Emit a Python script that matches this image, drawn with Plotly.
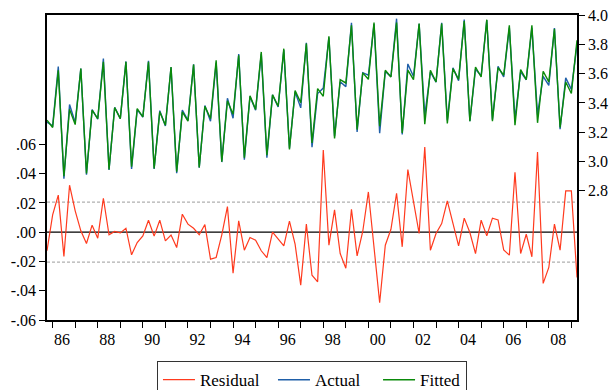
import plotly.graph_objects as go

# quarterly observations 1985Q4 .. 2009Q2
start_year, start_q, n_obs = 1985, 4, 95

fitted = [3.282, 3.232, 3.623, 2.900, 3.357, 3.252, 3.634, 2.918, 3.350, 3.293,
          3.680, 2.945, 3.368, 3.293, 3.680, 2.964, 3.361, 3.305, 3.680, 2.952,
          3.339, 3.248, 3.645, 2.930, 3.339, 3.275, 3.661, 2.959, 3.377, 3.293,
          3.691, 2.998, 3.414, 3.323, 3.725, 3.025, 3.448, 3.355, 3.748, 3.043,
          3.455, 3.377, 3.770, 3.082, 3.484, 3.402, 3.805, 3.127, 3.498, 3.445,
          3.855, 3.157, 3.559, 3.536, 3.930, 3.218, 3.605, 3.561, 3.948, 3.241,
          3.623, 3.577, 3.948, 3.195, 3.623, 3.559, 3.941, 3.255, 3.623, 3.543,
          3.941, 3.259, 3.634, 3.561, 3.959, 3.275, 3.645, 3.577, 3.968, 3.275,
          3.641, 3.589, 3.930, 3.248, 3.627, 3.559, 3.930, 3.264, 3.616, 3.543,
          3.905, 3.232, 3.543, 3.464, 3.827]

actual = [3.269, 3.244, 3.648, 2.883, 3.389, 3.267, 3.635, 2.910, 3.355, 3.289,
          3.703, 2.943, 3.369, 3.293, 3.683, 2.949, 3.354, 3.303, 3.688, 2.949,
          3.347, 3.242, 3.643, 2.920, 3.351, 3.281, 3.664, 2.957, 3.382, 3.275,
          3.674, 2.996, 3.432, 3.295, 3.733, 3.013, 3.444, 3.350, 3.735, 3.026,
          3.455, 3.372, 3.761, 3.090, 3.476, 3.366, 3.811, 3.098, 3.464, 3.501,
          3.846, 3.172, 3.544, 3.511, 3.946, 3.202, 3.606, 3.589, 3.938, 3.193,
          3.614, 3.579, 3.975, 3.185, 3.666, 3.580, 3.940, 3.313, 3.611, 3.542,
          3.947, 3.280, 3.640, 3.552, 3.969, 3.275, 3.630, 3.585, 3.966, 3.285,
          3.649, 3.577, 3.914, 3.289, 3.612, 3.558, 3.913, 3.319, 3.581, 3.519,
          3.911, 3.220, 3.571, 3.492, 3.796]

residual = [-0.0127, 0.0118, 0.0253, -0.0166, 0.0321, 0.0146, 0.0009, -0.0077, 0.0048, -0.0041,
            0.0232, -0.0018, 0.0005, -0.0005, 0.0027, -0.0155, -0.0071, -0.0025, 0.0082, -0.0027,
            0.0082, -0.0059, -0.0020, -0.0105, 0.0123, 0.0055, 0.0027, -0.0018, 0.0052, -0.0184,
            -0.0173, -0.0018, 0.0175, -0.0280, 0.0077, -0.0123, -0.0036, -0.0055, -0.0127, -0.0173,
            0.0000, -0.0048, -0.0093, 0.0075, -0.0082, -0.0362, 0.0055, -0.0294, -0.0339, 0.0562,
            -0.0089, 0.0152, -0.0146, -0.0246, 0.0157, -0.0162, 0.0005, 0.0275, -0.0105, -0.0482,
            -0.0089, 0.0020, 0.0266, -0.0100, 0.0428, 0.0214, -0.0009, 0.0582, -0.0123, -0.0009,
            0.0059, 0.0214, 0.0055, -0.0093, 0.0096, -0.0002, -0.0146, 0.0082, -0.0025, 0.0096,
            0.0084, -0.0121, -0.0157, 0.0410, -0.0146, -0.0014, -0.0168, 0.0548, -0.0350, -0.0241,
            0.0055, -0.0123, 0.0282, 0.0282, -0.0310]

std_err = 0.0205

resid_ticks = [-0.06, -0.04, -0.02, 0.0, 0.02, 0.04, 0.06]
resid_labels = ["-.06", "-.04", "-.02", ".00", ".02", ".04", ".06"]
level_ticks = [2.8, 3.0, 3.2, 3.4, 3.6, 3.8, 4.0]
level_labels = ["2.8", "3.0", "3.2", "3.4", "3.6", "3.8", "4.0"]
year_ticks = list(range(1986, 2010))
year_label_years = list(range(1986, 2009, 2))
year_labels = ["%02d" % (y % 100) for y in year_label_years]

# time positions (year + quarter fraction)
t = [start_year + (start_q - 1) / 4 + 0.25 * i for i in range(n_obs)]

RED = "#ff3a1e"
BLUE = "#1f5fa8"
GREEN = "#0a8a0a"
FONT = "Liberation Serif"
NB = "\u00a0"

fig = go.Figure()
fig.add_trace(go.Scatter(x=t, y=residual, name="Residual" + NB * 2, mode="lines",
                         line=dict(color=RED, width=1.2), xaxis="x", yaxis="y"))
fig.add_trace(go.Scatter(x=t, y=actual, name="Actual" + NB * 3, mode="lines",
                         line=dict(color=BLUE, width=1.4), xaxis="x", yaxis="y2"))
fig.add_trace(go.Scatter(x=t, y=fitted, name="Fitted", mode="lines",
                         line=dict(color=GREEN, width=1.4), xaxis="x", yaxis="y2"))

for v, col, dash, w in [(0.0, "black", "solid", 1.3),
                        (std_err, "#b0b0b0", "3px,2px", 1.2),
                        (-std_err, "#b0b0b0", "3px,2px", 1.2)]:
    fig.add_shape(type="line", xref="x domain", yref="y", x0=0, x1=1, y0=v, y1=v,
                  line=dict(color=col, width=w, dash=dash), layer="below")

xr = [t[0], t[-1]]
fig.update_layout(
    width=611, height=390,
    margin=dict(l=47, r=34, t=15, b=70, autoexpand=False),
    plot_bgcolor="white", paper_bgcolor="white",
    font=dict(family=FONT, size=16, color="black"),
    showlegend=True,
    legend=dict(orientation="h", x=0.2075, y=-0.135, xanchor="left", yanchor="top",
                bordercolor="#333", borderwidth=1, font=dict(size=17, family=FONT),
                traceorder="normal", itemwidth=32, bgcolor="white"),
    xaxis=dict(range=xr, tickmode="array", tickvals=year_ticks, ticktext=["" for _ in year_ticks],
               ticks="outside", ticklen=6, tickcolor="black", showgrid=False, zeroline=False,
               showline=True, linecolor="black", linewidth=1.5, mirror=True),
    xaxis2=dict(range=xr, overlaying="x", anchor="y", side="bottom", tickmode="array",
                tickvals=[y + 0.42 for y in year_label_years], ticktext=year_labels,
                ticks="", showgrid=False, zeroline=False, showline=False,
                ticklabelstandoff=8, tickfont=dict(size=16, family=FONT)),
    yaxis=dict(range=[-0.06, 0.1484], tickmode="array", tickvals=resid_ticks, ticktext=resid_labels,
               ticks="outside", ticklen=6, tickcolor="black", showgrid=False, zeroline=False,
               showline=True, linecolor="black", linewidth=1.5, tickfont=dict(size=16, family=FONT)),
    yaxis2=dict(range=[1.918, 4.0], overlaying="y", side="right", anchor="x", tickmode="array",
                tickvals=level_ticks, ticktext=level_labels, ticks="outside", ticklen=6,
                tickcolor="black", showgrid=False, zeroline=False, showline=True,
                linecolor="black", linewidth=1.5, tickfont=dict(size=16, family=FONT)),
)

# dummy trace to activate label axis
fig.add_trace(go.Scatter(x=[t[0]], y=[None], xaxis="x2", yaxis="y", showlegend=False,
                         hoverinfo="skip", mode="lines"))

fig.write_html("out.html", config={"displayModeBar": False},
               post_script="document.body.style.margin='0';document.body.style.overflow='hidden';")
